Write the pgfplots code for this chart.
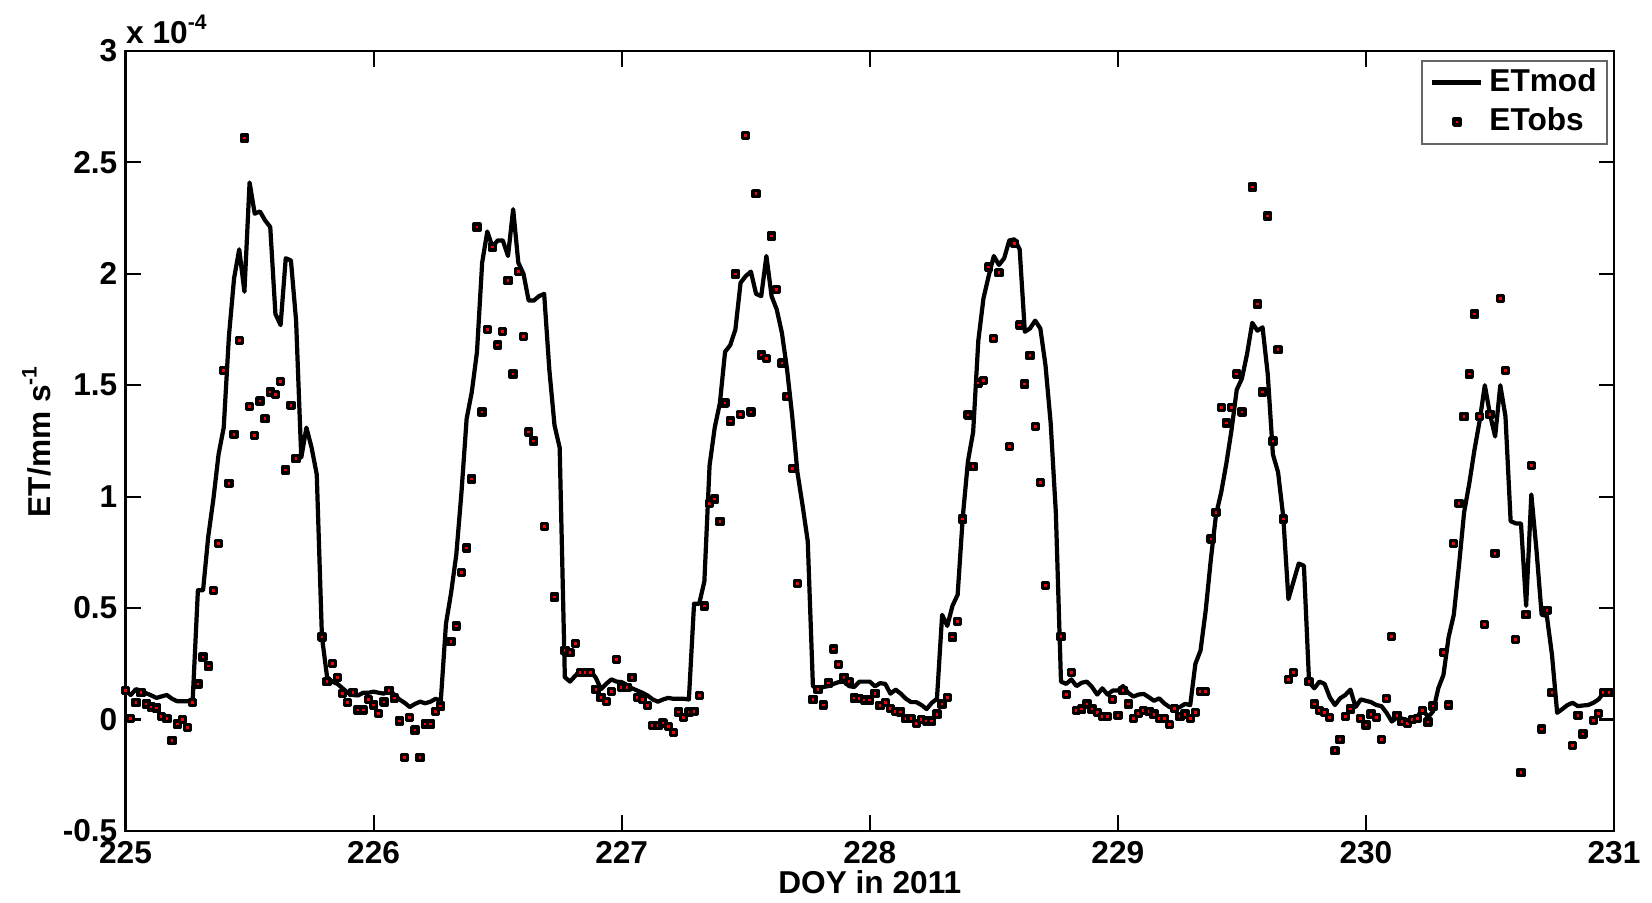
\documentclass[border=0pt]{standalone}
\usepackage{fontspec}
\setmainfont{Liberation Sans}
\usepackage{pgfplots}
\usepackage{pgfplotstable}
\pgfplotsset{compat=1.18}

\pgfplotstableread{
doy mod obs
225.0000 0.130 0.130
225.0208 0.110 0.005
225.0417 0.136 0.075
225.0625 0.130 0.120
225.0833 0.118 0.070
225.1042 0.108 0.056
225.1250 0.097 0.052
225.1458 0.104 0.015
225.1667 0.110 0.004
225.1875 0.093 -0.093
225.2083 0.082 -0.020
225.2292 0.082 0.000
225.2500 0.082 -0.037
225.2708 0.090 0.075
225.2917 0.580 0.160
225.3125 0.580 0.280
225.3333 0.820 0.240
225.3542 0.990 0.580
225.3750 1.190 0.790
225.3958 1.310 1.567
225.4167 1.720 1.060
225.4375 1.980 1.280
225.4583 2.110 1.700
225.4792 1.920 2.610
225.5000 2.410 1.405
225.5208 2.270 1.274
225.5417 2.280 1.430
225.5625 2.240 1.350
225.5833 2.210 1.470
225.6042 1.820 1.460
225.6250 1.770 1.517
225.6458 2.070 1.120
225.6667 2.060 1.410
225.6875 1.790 1.170
225.7083 1.175 nan
225.7292 1.310 nan
225.7500 1.220 nan
225.7708 1.100 nan
225.7917 0.370 0.370
225.8125 0.190 0.170
225.8333 0.170 0.250
225.8542 0.160 0.190
225.8750 0.140 0.116
225.8958 0.120 0.075
225.9167 0.110 0.120
225.9375 0.108 0.043
225.9583 0.120 0.043
225.9792 0.120 0.090
226.0000 0.125 0.065
226.0208 0.120 0.028
226.0417 0.116 0.078
226.0625 0.134 0.130
226.0833 0.112 0.097
226.1042 0.090 -0.006
226.1250 0.075 -0.170
226.1458 0.056 0.010
226.1667 0.070 -0.047
226.1875 0.080 -0.170
226.2083 0.073 -0.020
226.2292 0.080 -0.020
226.2500 0.093 0.037
226.2708 0.084 0.060
226.2917 0.430 nan
226.3125 0.570 0.350
226.3333 0.740 0.420
226.3542 1.020 0.660
226.3750 1.350 0.770
226.3958 1.470 1.080
226.4167 1.650 2.210
226.4375 2.050 1.380
226.4583 2.190 1.750
226.4792 2.120 2.120
226.5000 2.150 1.680
226.5208 2.150 1.740
226.5417 2.080 1.970
226.5625 2.290 1.550
226.5833 2.050 2.010
226.6042 2.000 1.720
226.6250 1.880 1.290
226.6458 1.880 1.250
226.6667 1.900 nan
226.6875 1.910 0.866
226.7083 1.570 nan
226.7292 1.320 0.550
226.7500 1.220 nan
226.7708 0.190 0.310
226.7917 0.170 0.300
226.8125 0.196 0.340
226.8333 0.220 0.210
226.8542 0.220 0.210
226.8750 0.218 0.210
226.8958 0.187 0.136
226.9167 0.136 0.100
226.9375 0.160 0.080
226.9583 0.180 0.125
226.9792 0.170 0.270
227.0000 0.168 0.144
227.0208 0.155 0.144
227.0417 0.140 0.190
227.0625 0.130 0.100
227.0833 0.120 0.090
227.1042 0.108 0.063
227.1250 0.090 -0.028
227.1458 0.080 -0.028
227.1667 0.090 -0.015
227.1875 0.097 -0.030
227.2083 0.093 -0.058
227.2292 0.093 0.034
227.2500 0.093 0.010
227.2708 0.090 0.034
227.2917 0.520 0.037
227.3125 0.520 0.108
227.3333 0.620 0.510
227.3542 1.140 0.970
227.3750 1.310 0.990
227.3958 1.420 0.890
227.4167 1.650 1.420
227.4375 1.680 1.340
227.4583 1.750 2.000
227.4792 1.960 1.370
227.5000 1.990 2.620
227.5208 2.010 1.380
227.5417 1.910 2.360
227.5625 1.900 1.636
227.5833 2.080 1.620
227.6042 1.900 2.170
227.6250 1.840 1.930
227.6458 1.735 1.600
227.6667 1.570 1.450
227.6875 1.360 1.125
227.7083 1.110 0.610
227.7292 0.960 nan
227.7500 0.800 nan
227.7708 0.150 0.090
227.7917 0.136 0.136
227.8125 0.146 0.065
227.8333 0.150 0.164
227.8542 0.160 0.317
227.8750 0.168 0.248
227.8958 0.170 0.190
227.9167 0.150 0.170
227.9375 0.146 0.097
227.9583 0.170 0.093
227.9792 0.170 0.088
228.0000 0.170 0.088
228.0208 0.149 0.118
228.0417 0.163 0.063
228.0625 0.160 0.075
228.0833 0.116 0.050
228.1042 0.134 0.037
228.1250 0.116 0.034
228.1458 0.093 0.004
228.1667 0.078 0.004
228.1875 0.078 -0.019
228.2083 0.065 0.000
228.2292 0.047 -0.006
228.2500 0.075 -0.006
228.2708 0.093 0.024
228.2917 0.470 0.070
228.3125 0.420 0.100
228.3333 0.510 0.370
228.3542 0.560 0.440
228.3750 0.910 0.900
228.3958 1.160 1.366
228.4167 1.290 1.134
228.4375 1.700 1.510
228.4583 1.890 1.520
228.4792 1.990 2.030
228.5000 2.080 1.710
228.5208 2.040 2.005
228.5417 2.070 nan
228.5625 2.150 1.224
228.5833 2.155 2.136
228.6042 2.110 1.770
228.6250 1.740 1.505
228.6458 1.755 1.634
228.6667 1.790 1.315
228.6875 1.755 1.063
228.7083 1.590 0.600
228.7292 1.330 nan
228.7500 0.930 nan
228.7708 0.170 0.373
228.7917 0.160 0.112
228.8125 0.180 0.210
228.8333 0.150 0.041
228.8542 0.165 0.047
228.8750 0.170 0.070
228.8958 0.146 0.047
228.9167 0.112 0.032
228.9375 0.140 0.015
228.9583 0.112 0.015
228.9792 0.130 0.090
229.0000 0.130 0.019
229.0208 0.150 0.130
229.0417 0.120 0.070
229.0625 0.103 0.004
229.0833 0.112 0.028
229.1042 0.115 0.041
229.1250 0.100 0.037
229.1458 0.084 0.024
229.1667 0.095 0.004
229.1875 0.072 0.004
229.2083 0.056 -0.022
229.2292 0.047 0.050
229.2500 0.056 0.015
229.2708 0.070 0.024
229.2917 0.065 0.004
229.3125 0.250 0.032
229.3333 0.310 0.125
229.3542 0.490 0.125
229.3750 0.720 0.810
229.3958 0.920 0.930
229.4167 1.020 1.400
229.4375 1.150 1.330
229.4583 1.300 1.400
229.4792 1.480 1.550
229.5000 1.530 1.380
229.5208 1.640 nan
229.5417 1.780 2.390
229.5625 1.745 1.864
229.5833 1.760 1.470
229.6042 1.550 2.260
229.6250 1.190 1.250
229.6458 1.110 1.660
229.6667 0.910 0.900
229.6875 0.540 0.180
229.7083 0.620 0.210
229.7292 0.700 nan
229.7500 0.690 nan
229.7708 0.168 0.170
229.7917 0.140 0.070
229.8125 0.170 0.040
229.8333 0.160 0.032
229.8542 0.100 0.009
229.8750 0.065 -0.140
229.8958 0.095 -0.090
229.9167 0.110 0.015
229.9375 0.134 0.047
229.9583 0.056 nan
229.9792 0.090 0.004
230.0000 0.084 -0.024
230.0208 0.078 0.024
230.0417 0.065 0.009
230.0625 0.060 -0.090
230.0833 0.030 0.093
230.1042 -0.009 0.373
230.1250 0.009 0.019
230.1458 0.004 -0.009
230.1667 -0.004 -0.019
230.1875 0.009 0.000
230.2083 0.015 0.004
230.2292 0.047 0.040
230.2500 0.010 -0.011
230.2708 0.037 0.060
230.2917 0.140 nan
230.3125 0.200 0.300
230.3333 0.370 0.065
230.3542 0.470 0.790
230.3750 0.690 0.970
230.3958 0.930 1.360
230.4167 1.060 1.550
230.4375 1.210 1.820
230.4583 1.340 1.360
230.4792 1.500 0.425
230.5000 1.370 1.370
230.5208 1.270 0.746
230.5417 1.500 1.890
230.5625 1.360 1.567
230.5833 0.890 nan
230.6042 0.880 0.360
230.6250 0.880 -0.239
230.6458 0.510 0.470
230.6667 1.010 1.140
230.6875 0.760 nan
230.7083 0.470 -0.043
230.7292 0.465 0.490
230.7500 0.290 0.120
230.7708 0.030 nan
230.7917 0.047 nan
230.8125 0.065 nan
230.8333 0.075 -0.118
230.8542 0.060 0.019
230.8750 0.063 -0.065
230.8958 0.065 nan
230.9167 0.075 -0.004
230.9375 0.090 0.028
230.9583 0.120 0.120
230.9792 0.120 0.120
}\etdata

\begin{document}
\begin{tikzpicture}[font=\bfseries\fontsize{9}{10.8}\selectfont]
\begin{axis}[
  name=ax,
  scale only axis,
  width=148.8mm, height=77.97mm,
  xmin=225, xmax=231, ymin=-0.5, ymax=3,
  xtick={225,226,227,228,229,230,231},
  xticklabels={225,226,227,228,229,230,231},
  ytick={-0.5,0,0.5,1,1.5,2,2.5,3},
  yticklabels={-0.5,0,0.5,1,1.5,2,2.5,3},
  tick align=inside, tick pos=both,
  major tick length=1.55mm,
  axis line style={line width=0.6pt},
  every tick/.style={black, line width=0.6pt},
  tick label style={font=\bfseries\fontsize{9}{10.8}\selectfont, inner sep=0pt},
  xticklabel style={anchor=base, yshift=-3.3mm},
  yticklabel style={anchor=east, xshift=-0.75mm},
  xlabel={DOY in 2011},
  xlabel style={at={([yshift=-6.3mm]axis description cs:0.5,0)}, anchor=base, inner sep=0pt},
  ylabel={ET/mm s\textsuperscript{-1}},
  ylabel style={at={([xshift=-7.55mm]axis description cs:0,0.5)}, anchor=base, inner sep=0pt},
  clip=false,
  legend cell align=left,
  legend style={at={(1,1)}, anchor=north east, xshift=-0.65mm, yshift=-0.9mm,
    draw=black!60, line width=0.5pt, fill=white,
    inner xsep=0.8mm, inner ysep=0.25mm, row sep=0.4pt, column sep=0.4mm,
    nodes={inner xsep=0.2mm, inner ysep=0.5mm},
    font=\bfseries\fontsize{9}{10.8}\selectfont},
]
\addlegendimage{legend image code/.code={\draw[black, line width=1.15pt] (0mm,0mm) -- (4.9mm,0mm);}}
\addlegendentry{ETmod}
\addlegendimage{legend image code/.code={\fill[white, opacity=0] (0mm,-0.3mm) rectangle (4.9mm,0.3mm);
   \filldraw[draw=black, fill=red, line width=0.95pt, line join=round] (2.15mm,-0.3mm) rectangle (2.75mm,0.3mm);}}
\addlegendentry{ETobs}
\addplot[forget plot, black, line width=1.2pt, line join=round]
  table[x=doy, y=mod] {\etdata};
\addplot[forget plot, only marks, mark=square*, mark size=0.3mm,
  mark options={draw=black, fill=red, line width=0.95pt, line join=round}]
  table[x=doy, y=obs] {\etdata};
\end{axis}
\node[anchor=base west, inner sep=0pt] at ([yshift=0.77mm]ax.north west) {x 10\textsuperscript{-4}};
\pgfresetboundingbox
\path[use as bounding box] ([xshift=-12.55mm,yshift=-7.13mm]ax.south west) rectangle ([xshift=3.8mm,yshift=5.1mm]ax.north east);
\end{tikzpicture}
\end{document}
